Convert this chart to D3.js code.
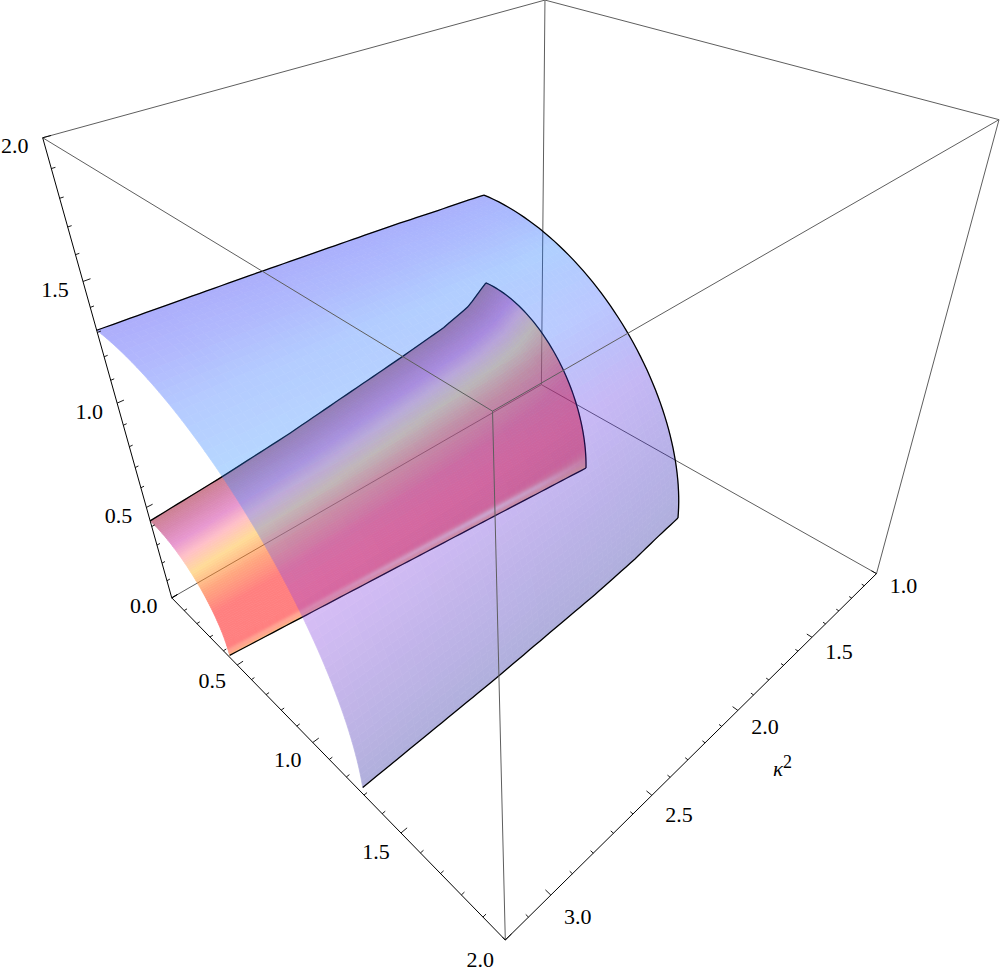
<!doctype html><html><head><meta charset="utf-8"></head><body style="margin:0;background:#fff">
<script src="https://cdn.jsdelivr.net/npm/d3@7"></script>
<svg id="c" width="1000" height="975" style="display:block"></svg>
<script>
// ---- data ----
const kappaGrid    = [1.35, 1.5, 1.66, 1.92, 2.55, 2.88, 3.2];
const outerRadiusX = [1.185, 1.198, 1.215, 1.232, 1.258, 1.266, 1.274];
const outerRadiusZ = [1.222, 1.232, 1.24, 1.256, 1.284, 1.297, 1.309];
const innerRadiusX = [0.646, 0.629, 0.611, 0.581, 0.510, 0.473, 0.437];
const innerRadiusZ = [0.80, 0.695, 0.646, 0.60, 0.50, 0.46, 0.43];
const sheenStrength = [0.15, 0.35, 0.65, 0.8, 0.45, 0.2, 0.15];
// kappa limits of each sheet: [at z=0 edge, at x=0 edge]
const outerKappaMin = [1.321, 1.382], outerKappaMax = [3.185, 3.2];
const innerKappaMin = [1.352, 1.384], innerKappaMax = [3.195, 3.2];
const xTicks = [0.5, 1.0, 1.5, 2.0];
const kappaTicks = [1.0, 1.5, 2.0, 2.5, 3.0];
const zTicks = [0.0, 0.5, 1.0, 1.5, 2.0];
const outerStopsAt = [0, .2, .4, .5, .58, .75, .88, 1];
const outerStopsFar  = ["#b0b0dc", "#c4b6ea", "#dcc0f8", "#c8ccfc", "#b8dcff", "#b6ccff", "#b2b8fd", "#aeaefb"];
const outerStopsNear = ["#b0b0dc", "#b8b2e8", "#c4b8f4", "#bcc0fb", "#bcc8ff", "#b0d0ff", "#acbcfe", "#a9b2fc"];
const innerStopsAt = [0, .03, .08, .35, .5, .62, .72, .8, .9, 1];
const innerStops = ["#ffc888", "#ff9c84", "#ff8080", "#ff8080", "#ffa880", "#ffdc98", "#ffc0c8", "#e898d0", "#d888b0", "#cc8090"];
// ---- camera ----
const camera = [[153.53164, -408.42147, -108.72521, 541.39530],
                [70.15083, 78.19439, -384.56773, 384.63391],
                [-0.20717, -0.22583, -0.20605, 1]];
const sx = d3.scaleLinear([0, 2], [0, 1]);
const sk = d3.scaleLinear([1, 3.2], [0, 1]);
const sz = d3.scaleLinear([0, 2], [0, 1]);
function proj(x, k, z) {
  const u = sx(x), v = sk(k), w = sz(z), P = camera;
  const h = P[2][0]*u + P[2][1]*v + P[2][2]*w + P[2][3];
  return [(P[0][0]*u + P[0][1]*v + P[0][2]*w + P[0][3]) / h,
          (P[1][0]*u + P[1][1]*v + P[1][2]*w + P[1][3]) / h];
}
const svg = d3.select("#c");
const line = d3.line();
const K0 = 1, K1 = 3.2, X1 = 2, Z1 = 2;
function seg(g, a, b, col, w) {
  g.append("path").attr("d", line([proj(...a), proj(...b)])).attr("fill", "none").attr("stroke", col).attr("stroke-width", w);
}
const GRAY = "#5e5e5e";
const back = svg.append("g");
seg(back, [0,K0,0],[0,K0,Z1],GRAY,1);
seg(back, [0,K0,0],[X1,K0,0],GRAY,1);
seg(back, [0,K0,0],[0,K1,0],GRAY,1);
seg(back, [0,K0,Z1],[X1,K0,Z1],GRAY,1);
seg(back, [0,K0,Z1],[0,K1,Z1],GRAY,1);
seg(back, [X1,K0,0],[X1,K0,Z1],GRAY,1);

function surface(opts) {
  const rx = d3.scaleLinear(kappaGrid, opts.rx), rz = d3.scaleLinear(kappaGrid, opts.rz);
  const kLo = d3.scaleLinear([0,1], opts.kMin), kHi = d3.scaleLinear([0,1], opts.kMax);
  const kOf = (u, s) => kLo(s) + (kHi(s)-kLo(s))*u;
  const pt = (u, s) => { const k = kOf(u,s), t = s*Math.PI/2; return proj(rx(k)*Math.cos(t), k, rz(k)*Math.sin(t)); };
  const a = opts.alpha;
  const uGrid = d3.range(0, 61).map(i => i/60);
  const g = svg.append("g").attr("opacity", a);
  const f = v => Math.max(0, Math.min(255, (v-(1-a)*255)/a));
  for (let i = 0; i < uGrid.length-1; i++) for (let j = 0; j < opts.sGrid.length-1; j++) {
    const u0 = uGrid[i], u1 = uGrid[i+1], s0 = opts.sGrid[j], s1 = opts.sGrid[j+1];
    const sm = (s0+s1)/2;
    const c = d3.rgb(opts.color(kOf((u0+u1)/2, sm), sm));
    const col = d3.rgb(f(c.r), f(c.g), f(c.b)).formatHex();
    g.append("path").attr("d", line([pt(u0,s0),pt(u1,s0),pt(u1,s1),pt(u0,s1)])+"Z")
      .attr("fill", col).attr("stroke", col).attr("stroke-width", 0.7);
  }
  const o = svg.append("g").attr("fill","none").attr("stroke","#000").attr("stroke-width",1.3);
  o.append("path").attr("d", line(uGrid.map(u => pt(u,0))));
  o.append("path").attr("d", line(uGrid.map(u => pt(u,1))));
  o.append("path").attr("d", line(uGrid.map(s => pt(0,s))));
}
const sheen = d3.scaleLinear(kappaGrid, sheenStrength);
const innerRamp = d3.scaleLinear(innerStopsAt, innerStops).clamp(true);
surface({rx: innerRadiusX, rz: innerRadiusZ, kMin: innerKappaMin, kMax: innerKappaMax, alpha: 0.55,
  sGrid: d3.range(0,.1,.005).concat(d3.range(0,73).map(i => .1+.9*i/72)),
  color: (k, s) => {
    const d = 0.05 - (3.2-k)*0.06;
    const w = sheen(k)*Math.exp(-Math.pow((s-0.04)/0.02,2));
    return d3.interpolateRgb(innerRamp(s + d*Math.sin(s*Math.PI)), "#fff0d8")(w);
  }});
const rampFar = d3.scaleLinear(outerStopsAt, outerStopsFar).clamp(true);
const rampNear = d3.scaleLinear(outerStopsAt, outerStopsNear).clamp(true);
const kMix = d3.scaleLinear([1.35, 3.2], [1, 0]).clamp(true);
surface({rx: outerRadiusX, rz: outerRadiusZ, kMin: outerKappaMin, kMax: outerKappaMax, alpha: 0.33,
  sGrid: d3.range(0,61).map(i => i/60),
  color: (k, s) => d3.interpolateRgb(rampFar(s), rampNear(s))(kMix(k)) });

const front = svg.append("g");
seg(front, [X1,K1,0],[X1,K1,Z1],GRAY,1);
seg(front, [0,K1,Z1],[X1,K1,Z1],GRAY,1);
seg(front, [X1,K0,Z1],[X1,K1,Z1],GRAY,1);
const ax = svg.append("g");
seg(ax, [0,K1,0],[X1,K1,0],"#000",1);
seg(ax, [X1,K1,0],[X1,K0,0],"#000",1);
seg(ax, [0,K1,0],[0,K1,Z1],"#000",1);
const isMajor = v => Math.abs(v*2-Math.round(v*2)) < 1e-6;
d3.range(0,21).map(i => i/10).forEach(v => {
  const l = isMajor(v) ? 0.012 : 0.006;
  seg(ax,[v,K1,0],[v,K1-l*2.2,0],"#000",0.9);
  seg(ax,[0,K1,v],[0,K1-l*2.2,v],"#000",0.9);
});
d3.range(0,23).map(i => 1+i/10).forEach(v => {
  const l = isMajor(v) ? 0.012 : 0.006;
  seg(ax,[X1,v,0],[X1-l*2,v,0],"#000",0.9);
});
const FONT = "'Liberation Serif','Times New Roman',Times,serif";
const label = (p, dx, dy, t) => svg.append("text").attr("x",p[0]+dx).attr("y",p[1]+dy)
  .attr("text-anchor","middle").attr("dominant-baseline","central")
  .attr("font-family",FONT).attr("font-size",22).attr("fill","#000").text(t);
const fmt = d3.format(".1f");
zTicks.forEach(v => label(proj(0,K1,v), -28, 8, fmt(v)));
xTicks.forEach(v => label(proj(v,K1,0), -25, 14+v*3, fmt(v)));
kappaTicks.forEach(v => label(proj(X1,v,0), 27, 12+(v-1)*4.5, fmt(v)));
const kl = svg.append("text").attr("x",773).attr("y",776).attr("font-family",FONT).attr("font-size",21);
kl.append("tspan").attr("font-style","italic").text("κ");
kl.append("tspan").attr("dy",-8).attr("font-size",18).text("2");
</script></body></html>
